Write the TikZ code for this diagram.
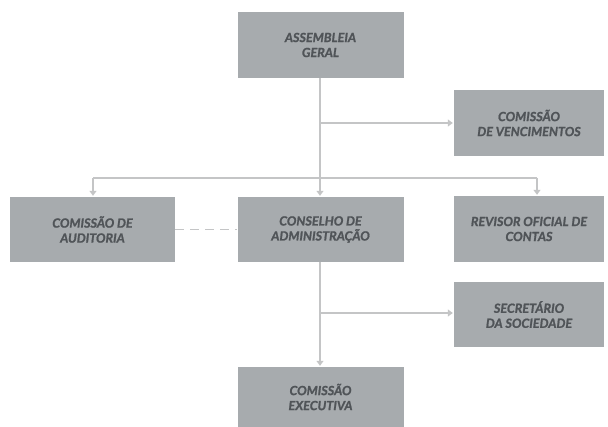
\documentclass[tikz,border=0pt]{standalone}
\usepackage{fontspec}
\setmainfont{Lato}[BoldItalicFeatures={FakeBold=1.3}]
\usetikzlibrary{arrows.meta}
\definecolor{boxfill}{HTML}{A7ABAE}
\definecolor{boxtext}{HTML}{505458}
\definecolor{linegray}{HTML}{C4C5C6}
\tikzset{
  orgbox/.style={fill=boxfill, draw=none, align=center, inner sep=0pt,
    font=\fontsize{12.6}{15}\selectfont\bfseries\itshape, text=boxtext},
  conn/.style={draw=linegray, line width=1.8pt},
  arr/.style={conn, -{Triangle[width=7pt,length=5pt]}, shorten >=1pt},
}
\begin{document}
\begin{tikzpicture}[x=1pt,y=-1pt]
\useasboundingbox[fill=white] (0,0) rectangle (608,427);
\node[orgbox, minimum width=166pt, minimum height=66pt] (ag) at (320.5,45) {ASSEMBLEIA\\GERAL};
\node[orgbox, minimum width=150pt, minimum height=66pt] (cv) at (529,123) {COMISSÃO\\DE VENCIMENTOS};
\node[orgbox, minimum width=165pt, minimum height=65pt] (ca) at (92.5,229.5) {COMISSÃO DE\\AUDITORIA};
\node[orgbox, minimum width=166pt, minimum height=65pt] (cn) at (320.5,229.5) {CONSELHO DE\\ADMINISTRAÇÃO};
\node[orgbox, minimum width=150pt, minimum height=66pt] (ro) at (529,229) {REVISOR OFICIAL DE\\CONTAS};
\node[orgbox, minimum width=150pt, minimum height=65pt] (ss) at (529,314.5) {SECRETÁRIO\\DA SOCIEDADE};
\node[orgbox, minimum width=166pt, minimum height=60pt] (ce) at (320.5,397) {COMISSÃO\\EXECUTIVA};

\coordinate (j1) at (320,123);
\coordinate (j2) at (320,178);
\coordinate (jl) at (93,178);
\coordinate (jr) at (537,178);
\coordinate (j3) at (320,313);

\draw[arr] (ag.south -| j2) -- (cn.north -| j2);
\draw[arr] (j1) -- (cv.west |- j1);
\draw[conn] (jl) -- (jr);
\draw[arr] (jl) -- (ca.north -| jl);
\draw[arr] (jr) -- (ro.north -| jr);
\draw[conn, dash pattern=on 9pt off 6pt] (ca.east) -- (cn.west);
\draw[arr] (cn.south -| j3) -- (ce.north -| j3);
\draw[arr] (j3) -- (ss.west |- j3);
\end{tikzpicture}
\end{document}
